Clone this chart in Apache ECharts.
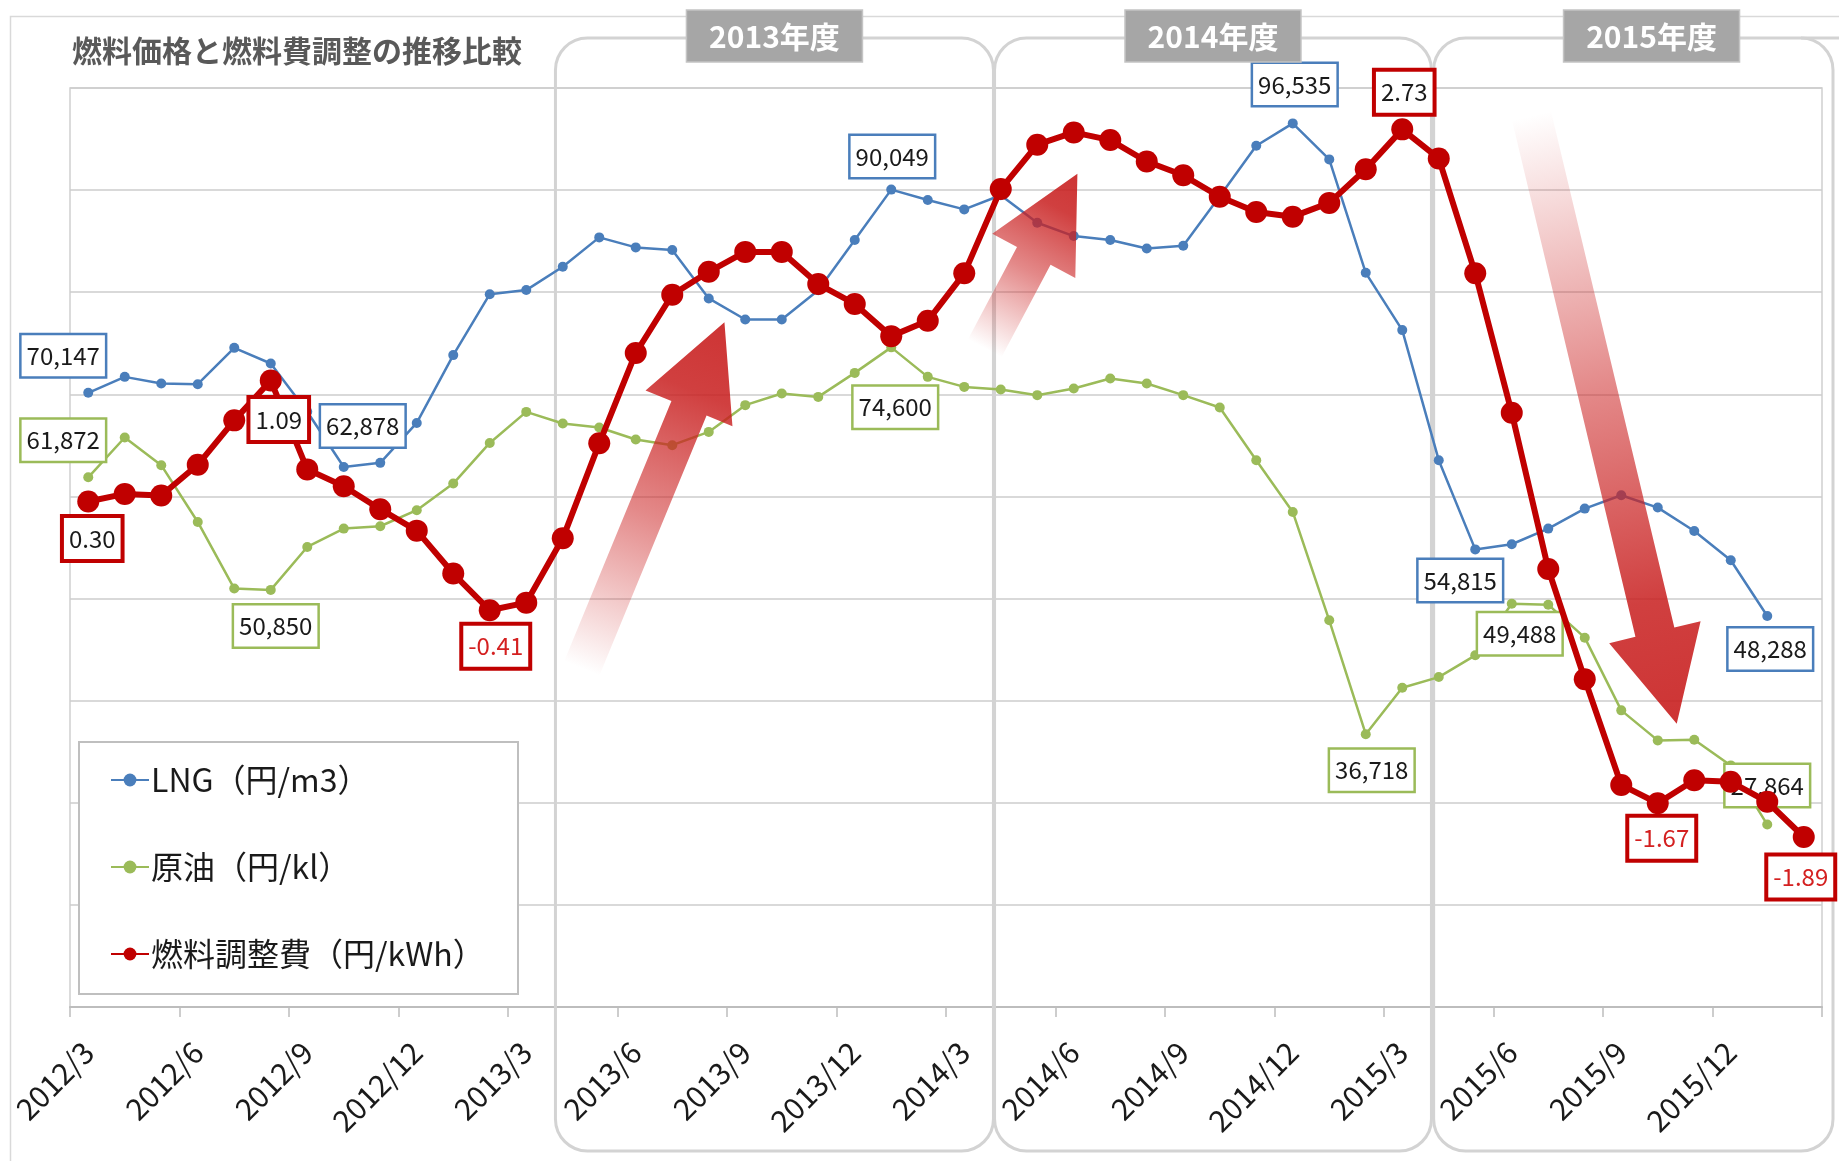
<!DOCTYPE html>
<html>
<head>
<meta charset="utf-8">
<script src="https://cdn.jsdelivr.net/npm/echarts@6/dist/echarts.min.js"></script>
<style>
html,body{margin:0;padding:0;background:#ffffff;}
#chart{width:1839px;height:1161px;}
</style>
</head>
<body>
<div id="chart"></div>
<script>
// ---------------- DATA ----------------
const months = [
  '2012/3','2012/4','2012/5','2012/6','2012/7','2012/8','2012/9','2012/10','2012/11','2012/12',
  '2013/1','2013/2','2013/3','2013/4','2013/5','2013/6','2013/7','2013/8','2013/9','2013/10','2013/11','2013/12',
  '2014/1','2014/2','2014/3','2014/4','2014/5','2014/6','2014/7','2014/8','2014/9','2014/10','2014/11','2014/12',
  '2015/1','2015/2','2015/3','2015/4','2015/5','2015/6','2015/7','2015/8','2015/9','2015/10','2015/11','2015/12',
  '2016/1','2016/2'
];
const lngPrice = [
  70147, 71710, 71060, 70990, 74550, 73020, 68300, 62878, 63290, 67200,
  73840, 79810, 80210, 82490, 85370, 84390, 84130, 79390, 77330, 77330, 80200, 85110,
  90049, 89030, 88110, 89500, 86800, 85500, 85110, 84290, 84550, 89400, 94350, 96535,
  93010, 81900, 76290, 63550, 54815, 55320, 56850, 58810, 60120, 58910, 56620, 53750,
  48288, null
];
const crudePrice = [
  61872, 65770, 63060, 57500, 50980, 50850, 55050, 56850, 57080, 58650,
  61260, 65240, 68280, 67140, 66750, 65580, 65020, 66320, 68940, 70080, 69750, 72100,
  74600, 71710, 70730, 70470, 69920, 70570, 71550, 71060, 69920, 68710, 63550, 58480,
  47870, 36718, 41270, 42310, 44440, 49488, 49400, 46170, 39050, 36110, 36180, 33660,
  27864, null
];
const fuelAdj = [
  0.30, 0.35, 0.34, 0.54, 0.83, 1.09, 0.51, 0.40, 0.25, 0.11,
  -0.17, -0.41, -0.36, 0.06, 0.68, 1.27, 1.65, 1.80, 1.93, 1.93, 1.72, 1.59,
  1.38, 1.48, 1.79, 2.34, 2.63, 2.71, 2.66, 2.52, 2.43, 2.29, 2.19, 2.16,
  2.25, 2.47, 2.73, 2.54, 1.79, 0.88, -0.14, -0.86, -1.55, -1.67, -1.52, -1.53,
  -1.66, -1.89
];
const seriesNames = ['LNG（円/m3）', '原油（円/kl）', '燃料調整費（円/kWh）'];
const fiscalLabels = ['2013年度', '2014年度', '2015年度'];
const fiscalStart = ['2013/4', '2014/4', '2015/4'];
const titleText = '燃料価格と燃料費調整の推移比較';

// which points carry a data label, and where the label box sits (px offset from the point)
const lngLabelAt   = {0: [-25, -37], 7: [19, -41], 22: [1, -33], 33: [2, -39], 38: [-15, 31], 46: [3, 33]};
const crudeLabelAt = {0: [-25, -37], 5: [5, 36], 22: [4, 60], 35: [6, 36], 39: [8, 30], 46: [0, -39]};
const fuelLabelAt  = {0: [4, 37], 5: [8, 39], 11: [6, 36], 36: [2, -37], 43: [4, 35], 47: [-3, 40]};

// ---------------- STYLE ----------------
const FONT = '"Noto Sans CJK JP", "Noto Sans", sans-serif';
const BLUE = '#4a7ebb', GREEN = '#9bbb59', RED = '#c00000';

function withLabels(values, labelAt, extra) {
  return values.map((v, i) => {
    if (v == null || !labelAt[i]) return v;
    const lab = Object.assign({show: true, position: 'inside', offset: labelAt[i]}, extra ? extra(v) : {});
    return {value: v, label: lab};
  });
}

const thousands = p => Number(p.value).toLocaleString('en-US');
const boxLabel = (border, bw) => ({
  show: false,
  formatter: thousands,
  color: '#1a1a1a',
  fontSize: 24,
  fontFamily: FONT,
  lineHeight: 28,
  backgroundColor: '#ffffff',
  borderColor: border,
  borderWidth: bw,
  padding: [7, 5, 6, 5]
});

const chart = echarts.init(document.getElementById('chart'), null, {renderer: 'canvas'});

const option = {
  animation: false,
  backgroundColor: '#ffffff',
  title: {
    text: titleText,
    left: 72, top: 36, padding: 0,
    textStyle: {fontSize: 30, fontWeight: 'bold', color: '#595959', fontFamily: FONT}
  },
  legend: {
    orient: 'vertical',
    left: 110, top: 764,
    padding: 0,
    itemWidth: 38, itemHeight: 16, itemGap: 55,
    textStyle: {fontSize: 32, color: '#1a1a1a', fontFamily: FONT, padding: [0, 0, 0, -3]},
    data: seriesNames
  },
  grid: {
    left: 70, right: 17, top: 88, bottom: 154,
    show: true, borderColor: '#cfcfcf', borderWidth: 1.5, backgroundColor: 'transparent'
  },
  xAxis: {
    type: 'category',
    data: months,
    boundaryGap: true,
    axisLine: {onZero: false, lineStyle: {color: '#bdbdbd', width: 2}},
    axisTick: {show: true, interval: 2, length: 10, lineStyle: {color: '#bdbdbd', width: 1.5}},
    axisLabel: {interval: 2, rotate: 45, margin: 40, fontSize: 30, color: '#1a1a1a', fontFamily: FONT},
    splitLine: {show: false}
  },
  yAxis: [
    {
      type: 'value', min: 10000, max: 100000, interval: 10000,
      axisLabel: {show: false}, axisLine: {show: false}, axisTick: {show: false},
      splitLine: {show: true, lineStyle: {color: '#cccccc', width: 1.5}}
    },
    {
      type: 'value', min: -3, max: 3, interval: 1, show: false,
      axisLine: {show: false, onZero: false},
      splitLine: {show: false}
    }
  ],
  series: [
    {
      name: seriesNames[0], type: 'line', yAxisIndex: 0, z: 2,
      data: withLabels(lngPrice, lngLabelAt),
      symbol: 'circle', symbolSize: 10, showAllSymbol: true,
      lineStyle: {color: BLUE, width: 2.5},
      itemStyle: {color: BLUE},
      label: boxLabel(BLUE, 2.5),
      emphasis: {disabled: true}
    },
    {
      name: seriesNames[1], type: 'line', yAxisIndex: 0, z: 2,
      data: withLabels(crudePrice, crudeLabelAt),
      symbol: 'circle', symbolSize: 10, showAllSymbol: true,
      lineStyle: {color: GREEN, width: 2.5},
      itemStyle: {color: GREEN},
      label: boxLabel(GREEN, 2.5),
      emphasis: {disabled: true}
    },
    {
      name: seriesNames[2], type: 'line', yAxisIndex: 1, z: 5,
      data: withLabels(fuelAdj, fuelLabelAt, v => ({color: v < 0 ? '#d42020' : '#1a1a1a'})),
      symbol: 'circle', symbolSize: 22, showAllSymbol: true,
      lineStyle: {color: RED, width: 6},
      itemStyle: {color: RED},
      label: Object.assign(boxLabel(RED, 4), {formatter: p => Number(p.value).toFixed(2), padding: [7, 5, 6, 5]}),
      emphasis: {disabled: true}
    }
  ]
};
chart.setOption(option);

// ---------------- DECORATIONS (positioned through the chart's own scales) ----------------
const p0 = chart.convertToPixel({seriesIndex: 2}, [0, 0]);
const p1 = chart.convertToPixel({seriesIndex: 2}, [1, 1]);
const xc = c => p0[0] + c * (p1[0] - p0[0]);            // category index -> px
const yv = v => p0[1] + v * (p1[1] - p0[1]);            // fuel-axis value -> px

function arrow(base, tip, shaftHalf, headLen, headHalf) {
  const B = [xc(base[0]), yv(base[1])], T = [xc(tip[0]), yv(tip[1])];
  const dx = T[0] - B[0], dy = T[1] - B[1], len = Math.hypot(dx, dy);
  const u = [dx / len, dy / len], n = [-u[1], u[0]];
  const H = [T[0] - u[0] * headLen, T[1] - u[1] * headLen];
  const pts = [
    [B[0] + n[0] * shaftHalf, B[1] + n[1] * shaftHalf],
    [H[0] + n[0] * shaftHalf, H[1] + n[1] * shaftHalf],
    [H[0] + n[0] * headHalf, H[1] + n[1] * headHalf],
    T,
    [H[0] - n[0] * headHalf, H[1] - n[1] * headHalf],
    [H[0] - n[0] * shaftHalf, H[1] - n[1] * shaftHalf],
    [B[0] - n[0] * shaftHalf, B[1] - n[1] * shaftHalf]
  ];
  return {
    type: 'polygon', z: 3, silent: true,
    shape: {points: pts},
    style: {
      fill: {
        type: 'linear', global: true, x: B[0], y: B[1], x2: T[0], y2: T[1],
        colorStops: [
          {offset: 0, color: 'rgba(205,40,40,0)'},
          {offset: 0.45, color: 'rgba(205,40,40,0.55)'},
          {offset: 0.8, color: 'rgba(200,30,30,0.85)'},
          {offset: 1, color: 'rgba(200,30,30,0.9)'}
        ]
      }
    }
  };
}

const graphics = [];
// outer chart border
graphics.push({type: 'rect', z: 0, silent: true, shape: {x: 10.5, y: 16.5, width: 1900, height: 1200},
  style: {fill: 'none', stroke: '#d9d9d9', lineWidth: 1.5}});

// fiscal-year frames + header tags
fiscalStart.forEach((m, k) => {
  const s = months.indexOf(m);
  const left = xc(s - 0.2 + k * 0.03);
  const fullRight = xc(s + 11.8);
  const right = Math.min(fullRight, 1833);
  graphics.push({type: 'rect', z: 1, silent: true,
    shape: {x: left, y: 38, width: right - left, height: 1113, r: 32},
    style: {fill: 'none', stroke: '#d3d3d3', lineWidth: 3}});
  if (fullRight > right) {
    graphics.push({type: 'line', z: 1, silent: true,
      shape: {x1: right - 32, y1: 38, x2: 1839, y2: 38},
      style: {stroke: '#d3d3d3', lineWidth: 3}});
  }
  const cx = (left + fullRight) / 2;
  graphics.push({type: 'rect', z: 6, silent: true,
    shape: {x: cx - 88, y: 10, width: 176, height: 52},
    style: {fill: '#a6a6a6', stroke: '#c4c4c4', lineWidth: 1.5}});
  graphics.push({type: 'text', z: 7, silent: true, x: cx, y: 37,
    style: {text: fiscalLabels[k], fill: '#ffffff', fontSize: 30, fontWeight: 'bold', fontFamily: FONT,
      align: 'center', verticalAlign: 'middle'}});
});

// legend frame
graphics.push({type: 'rect', z: 3, silent: true, shape: {x: 79, y: 742, width: 439, height: 252},
  style: {fill: '#ffffff', stroke: '#bfbfbf', lineWidth: 2}});

// trend arrows (category index, fuel-adjustment value)
graphics.push(arrow([13.52, -0.79], [17.43, 1.47], 19, 93, 47));
graphics.push(arrow([24.56, 1.30], [27.10, 2.44], 19, 93, 47));
graphics.push(arrow([39.54, 2.82], [43.52, -1.15], 20, 94, 47));

chart.setOption({graphic: {elements: graphics}});
</script>
</body>
</html>
